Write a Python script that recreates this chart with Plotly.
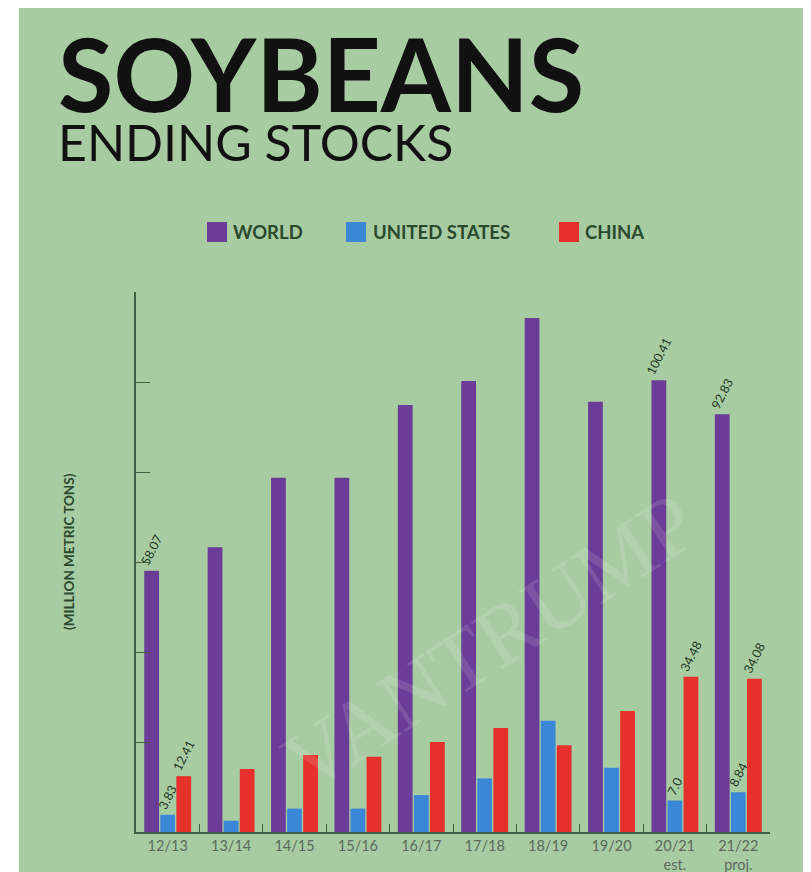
import plotly.graph_objects as go

categories = ["12/13", "13/14", "14/15", "15/16", "16/17", "17/18", "18/19", "19/20", "20/21<br>est.", "21/22<br>proj."]
world = [58.07, 63.3, 78.7, 78.7, 94.9, 100.2, 114.2, 95.6, 100.41, 92.83]
united_states = [3.83, 2.5, 5.2, 5.2, 8.2, 11.9, 24.7, 14.3, 7.0, 8.84]
china = [12.41, 14.0, 17.1, 16.7, 20.0, 23.1, 19.3, 26.9, 34.48, 34.08]
world_labels = ["58.07", "", "", "", "", "", "", "", "100.41", "92.83"]
us_labels = ["3.83", "", "", "", "", "", "", "", "7.0", "8.84"]
china_labels = ["12.41", "", "", "", "", "", "", "", "34.48", "34.08"]
series_names = ["WORLD", "UNITED STATES", "CHINA"]
series_colors = ["#6b3c98", "#3a87d8", "#e5302c"]

BG = "#a8cca2"
LABEL = "#1f3a22"
AX = "#3f5e3f"
LEG_TXT = "#2a4a2c"

# screen-pixel -> paper helpers (plot area spans x 136..770, y 292..832 on screen)
def fx(X):
    return (X - 136) / 634.0

def fy(Y):
    return (832 - Y) / 540.0

fig = go.Figure()
for name, vals, labs, col in zip(series_names, [world, united_states, china],
                                 [world_labels, us_labels, china_labels], series_colors):
    fig.add_trace(go.Bar(
        x=categories, y=vals, name=name, marker=dict(color=col, line=dict(width=0)),
        text=labs, textposition="outside", textangle=-63, cliponaxis=False,
        constraintext="none",
        textfont=dict(family="Lato", size=12.5, color=LABEL),
        hoverinfo="x+y+name",
    ))

fig.update_layout(
    width=803, height=864,
    paper_bgcolor=BG, plot_bgcolor=BG,
    margin=dict(l=128, r=41, t=284, b=40),
    barmode="group", bargap=0.24, bargroupgap=0.08,
    showlegend=False,
    font=dict(family="Lato"),
    xaxis=dict(showline=True, linecolor=AX, linewidth=1.5, ticks="inside", ticklen=8,
               tickcolor=AX, tickson="boundaries", showgrid=False, automargin=False,
               tickfont=dict(family="Lato", size=14.5, color="#5a6b5c")),
    yaxis=dict(range=[0, 120], dtick=20, showline=True, linecolor=AX, linewidth=1.5,
               ticks="inside", ticklen=14, tickcolor=AX, showticklabels=False,
               showgrid=False, zeroline=False, automargin=False),
)

shapes = []
# white strip at the left edge
shapes.append(dict(type="rect", xref="paper", yref="paper", x0=fx(0), x1=fx(19),
                   y0=fy(900), y1=fy(0), fillcolor="white", line=dict(width=0), layer="above"))

# custom legend
leg_sq_x = [207, 346, 559]
leg_txt_x = [231, 371, 583]
for name, col, sx, tx in zip(series_names, series_colors, leg_sq_x, leg_txt_x):
    shapes.append(dict(type="rect", xref="paper", yref="paper", x0=fx(sx), x1=fx(sx + 20),
                       y0=fy(242), y1=fy(222), fillcolor=col, line=dict(width=0)))
    fig.add_annotation(text="<b>" + name + "</b>", xref="paper", yref="paper",
                       x=fx(tx), y=fy(232), xanchor="left", yanchor="middle", showarrow=False,
                       font=dict(family="Lato", size=18.5, color=LEG_TXT))
fig.update_layout(shapes=shapes)

fig.add_annotation(
    text="<b><span style='font-size:101px'>SOYBEANS</span></b><br>"
         "<span style='font-size:50px'>ENDING STOCKS</span>",
    xref="paper", yref="paper", x=fx(56), y=fy(174),
    xanchor="left", yanchor="bottom", align="left", showarrow=False,
    font=dict(family="Lato", size=38, color="#111111"))
fig.add_annotation(text="<b>(MILLION METRIC TONS)</b>", xref="paper", yref="paper",
                   x=fx(69), y=fy(552), xanchor="center", yanchor="middle", textangle=-90,
                   showarrow=False, font=dict(family="Lato", size=13.5, color=LEG_TXT))
fig.add_annotation(text="VANTRUMP", xref="paper", yref="paper", x=fx(490), y=fy(470),
                   textangle=-33, showarrow=False,
                   font=dict(family="Liberation Serif", size=86, color="rgba(255,255,255,0.12)"))

fig.write_html("out.html")
